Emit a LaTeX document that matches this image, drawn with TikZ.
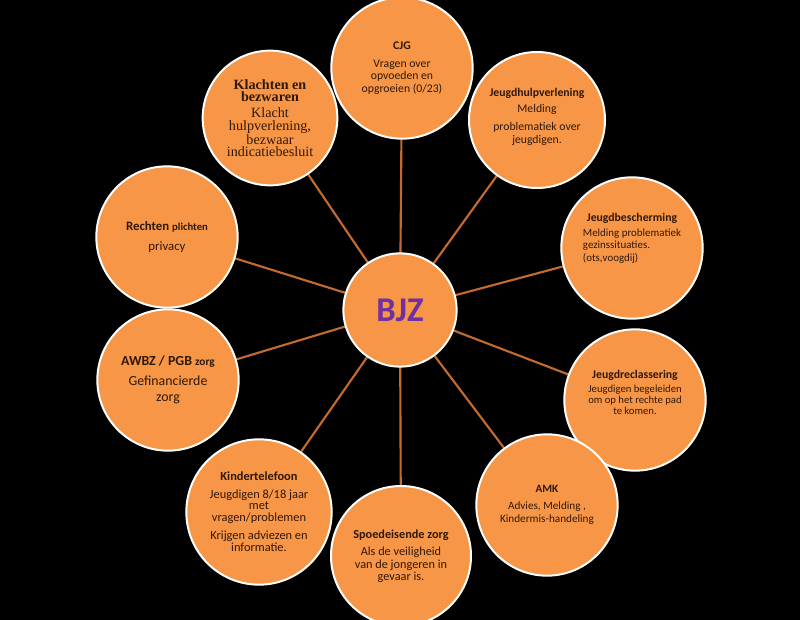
\documentclass[tikz,border=0pt]{standalone}
\usepackage{fontspec}
\setmainfont{Carlito}
\newfontfamily\timesfont{Liberation Serif}
\usetikzlibrary{backgrounds}
\definecolor{bjzorange}{RGB}{247,150,70}
\definecolor{spoke}{RGB}{196,106,46}
\definecolor{ink}{RGB}{48,24,8}
\definecolor{bjzpurple}{RGB}{112,48,160}
\newcommand{\fsz}[2]{\fontsize{#1}{#2}\selectfont}

\begin{document}
\begin{tikzpicture}[x=0.75pt,y=-0.75pt,
    bubble/.style={circle,fill=bjzorange,draw=white,line width=1.5pt,
      minimum size=106pt,inner sep=0pt,align=center,text=ink,
      font=\fsz{8.8}{10}},
    spokeline/.style={draw=spoke,line width=1.6pt}]
    \useasboundingbox (0,0) rectangle (800,620);

    % centre
    \node[bubble,minimum size=85pt,font=\fsz{26}{28}\bfseries,text=bjzpurple] (bjz) at (400,310) {BJZ};

    % ring round the centre
    \node[bubble,font=\fsz{8.8}{9.3}] (cjg) at (402,68) {\textbf{CJG}\\[4pt]Vragen over\\opvoeden en\\opgroeien (0/23)};
    \node[bubble,minimum size=102pt] (hulp) at (537,120) {\textbf{Jeugdhulpverlening}\\[2pt]Melding\\[3pt]problematiek over\\jeugdigen.\\[-4pt]};
    \node[bubble,minimum size=101pt,font=\timesfont\fsz{10.6}{9.2}] (klacht) at (270,118) {{\fsz{10.6}{9.6}\textbf{Klachten en}}\\{\fsz{10.6}{9.6}\textbf{bezwaren}}\\[3pt]Klacht\\hulpverlening,\\bezwaar\\indicatiebesluit};
    \node[bubble,font=\fsz{8.2}{9.4}] (bescherm) at (632,248) {{\fsz{8.8}{10}\textbf{Jeugdbescherming}}\\[2pt]\begin{tabular}{@{}l@{}}Melding problematiek\\gezinssituaties.\\(ots,voogdij)\end{tabular}\\[12pt]};
    \node[bubble,font=\fsz{9.6}{11}] (rechten) at (167,237) {\textbf{Rechten {\fsz{8}{9}plichten}}\\[4pt]privacy};
    \node[bubble,font=\fsz{10.4}{12}] (awbz) at (168,380) {\textbf{AWBZ / PGB {\fsz{8.5}{9}zorg}}\\[3pt]Gefinancierde\\zorg};
    \node[bubble,font=\fsz{8}{8.5}] (reclass) at (635,400) {{\fsz{8.8}{10}\textbf{Jeugdreclassering}}\\[2pt]Jeugdigen begeleiden\\om op het rechte pad\\te komen.\\[3pt]};
    \node[bubble,font=\fsz{8.4}{9.6}] (amk) at (547,505) {\textbf{AMK}\\[3pt]Advies, Melding ,\\Kindermis-handeling};
    \node[bubble,minimum size=109pt,font=\fsz{9.3}{8.8}] (kinder) at (259,512) {\textbf{Kindertelefoon}\\[4pt]Jeugdigen 8/18 jaar\\met\\vragen/problemen\\[5pt]Krijgen adviezen en\\informatie.};
    \node[bubble,minimum size=105pt,font=\fsz{9.2}{9.2}] (spoed) at (401,556) {\textbf{Spoedeisende zorg}\\[4pt]Als de veiligheid\\van de jongeren in\\gevaar is.};

    % black ground and spokes behind the bubbles
    \begin{scope}[on background layer]
      \fill[black] (0,0) rectangle (800,620);
      \foreach \n in {cjg,hulp,klacht,bescherm,rechten,awbz,reclass,amk,kinder,spoed}
        \draw[spokeline] (bjz.center) -- (\n.center);
    \end{scope}
\end{tikzpicture}
\end{document}
